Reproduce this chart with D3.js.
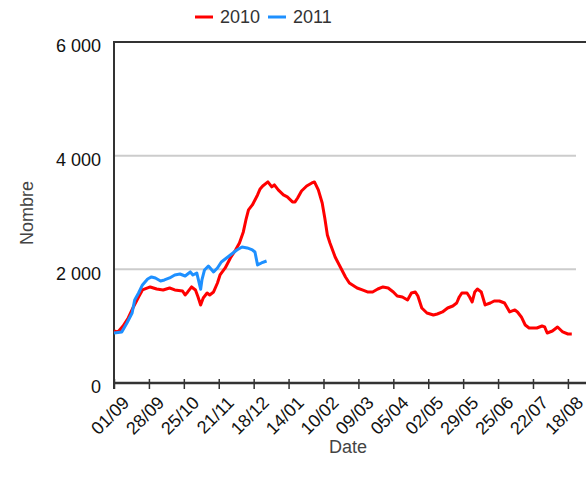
<!DOCTYPE html>
<html>
<head>
<meta charset="utf-8">
<script src="https://cdn.jsdelivr.net/npm/d3@7"></script>
<style>
  body { margin: 0; background: #fff; }
  text { font-family: "Liberation Sans", Arial, sans-serif; }
</style>
</head>
<body>
<div id="chart"></div>
<script>
// days since 01/09/2010 and counts
var days2010 = [0, 3, 7, 11, 15, 19, 22, 28, 33, 38, 43, 47, 53, 55, 57, 60, 63, 65, 67, 69, 72, 74, 77, 80, 82, 86, 90, 94, 97, 100, 102, 104, 107, 109, 111, 113, 115, 119, 122, 124, 127, 131, 134, 138, 140, 142, 145, 149, 153, 155, 158, 161, 163, 165, 167, 171, 175, 179, 182, 188, 192, 196, 200, 204, 208, 212, 216, 219, 223, 227, 230, 233, 235, 238, 242, 247, 250, 254, 258, 262, 265, 267, 269, 273, 275, 277, 279, 281, 284, 287, 291, 294, 298, 302, 306, 310, 312, 315, 318, 321, 327, 331, 333, 335, 339, 343, 347, 351, 354];
var values2010 = [915, 898, 1003, 1144, 1338, 1514, 1637, 1690, 1654, 1637, 1672, 1637, 1619, 1549, 1602, 1690, 1637, 1514, 1373, 1496, 1584, 1549, 1602, 1760, 1901, 2024, 2200, 2341, 2464, 2658, 2869, 3045, 3133, 3221, 3309, 3414, 3467, 3538, 3450, 3485, 3397, 3309, 3274, 3186, 3186, 3256, 3379, 3467, 3520, 3538, 3397, 3168, 2904, 2605, 2464, 2218, 2042, 1866, 1760, 1672, 1637, 1602, 1602, 1654, 1690, 1672, 1602, 1531, 1514, 1461, 1584, 1602, 1531, 1320, 1232, 1197, 1214, 1250, 1320, 1355, 1408, 1514, 1584, 1584, 1514, 1426, 1602, 1654, 1602, 1373, 1408, 1443, 1443, 1408, 1250, 1285, 1250, 1162, 1021, 968, 968, 1003, 986, 880, 915, 986, 898, 862, 862];

var days2011 = [0, 6, 10, 14, 16, 19, 22, 26, 29, 32, 36, 39, 43, 47, 51, 55, 59, 61, 64, 67, 68, 70, 73, 77, 80, 83, 87, 91, 95, 99, 103, 107, 109, 111, 114, 118];
var values2011 = [880, 898, 1056, 1232, 1461, 1584, 1725, 1830, 1866, 1848, 1795, 1813, 1848, 1901, 1918, 1883, 1954, 1901, 1936, 1650, 1813, 1989, 2059, 1954, 2024, 2130, 2200, 2270, 2341, 2394, 2376, 2341, 2306, 2077, 2112, 2147];

var seriesNames = ["2010", "2011"];
var seriesColors = ["#ff0000", "#1e90ff"];
var yTicks = [0, 2000, 4000, 6000];

var width = 587, height = 486;
var margin = {top: 42, right: 1, bottom: 103, left: 114};
var start = new Date(2010, 8, 1);
var end = d3.timeDay.offset(start, 365);

var x = d3.scaleTime().domain([start, end]).range([margin.left, width - margin.right]);
var y = d3.scaleLinear().domain([0, 6000]).range([height - margin.bottom, margin.top]);

var xTicks = d3.range(0, 352, 27).map(function(d) { return d3.timeDay.offset(start, d); });

var svg = d3.select("#chart").append("svg")
    .attr("width", width)
    .attr("height", height);

// grid lines
svg.selectAll(".grid")
    .data([2000, 4000])
  .enter().append("line")
    .attr("x1", margin.left)
    .attr("x2", 576)
    .attr("y1", function(d) { return y(d); })
    .attr("y2", function(d) { return y(d); })
    .attr("stroke", "#cccccc")
    .attr("stroke-width", 2);

// top frame line
svg.append("line")
    .attr("x1", margin.left).attr("x2", width - margin.right)
    .attr("y1", y(6000)).attr("y2", y(6000))
    .attr("stroke", "#333").attr("stroke-width", 2);

// y axis
var yAxis = svg.append("g")
    .attr("transform", "translate(" + margin.left + ",0)")
    .call(d3.axisLeft(y).tickValues(yTicks).tickSize(0).tickPadding(13)
      .tickFormat(function(d) { return d3.format(",")(d).replace(",", " "); }));
yAxis.select(".domain").remove();
yAxis.selectAll("text")
    .attr("font-size", 18)
    .attr("fill", "#111")
    .attr("dy", "0.55em");
svg.append("line")
    .attr("x1", margin.left).attr("x2", margin.left)
    .attr("y1", y(6000) - 1).attr("y2", y(0) + 6)
    .attr("stroke", "#333").attr("stroke-width", 2);

// x axis
var xAxis = svg.append("g")
    .attr("transform", "translate(0," + y(0) + ")")
    .call(d3.axisBottom(x).tickValues(xTicks).tickSize(6).tickPadding(6)
      .tickFormat(d3.timeFormat("%d/%m")));
xAxis.select(".domain")
    .attr("d", "M" + margin.left + ",0H" + (width - margin.right))
    .attr("stroke", "#333").attr("stroke-width", 2.5);
xAxis.selectAll(".tick line")
    .attr("y1", -4)
    .attr("stroke", "#333").attr("stroke-width", 1.5);
xAxis.selectAll(".tick text")
    .attr("font-size", 18)
    .attr("fill", "#111")
    .attr("text-anchor", "end")
    .attr("dy", "0.35em")
    .attr("transform", "translate(3,8) rotate(-45)");

// axis titles
svg.append("text")
    .attr("x", 348).attr("y", 453)
    .attr("text-anchor", "middle")
    .attr("font-size", 18)
    .attr("fill", "#444")
    .text("Date");
svg.append("text")
    .attr("transform", "translate(33,213) rotate(-90)")
    .attr("text-anchor", "middle")
    .attr("font-size", 18)
    .attr("fill", "#444")
    .text("Nombre");

// lines
var line = d3.line()
    .x(function(d) { return x(d3.timeDay.offset(start, d[0])); })
    .y(function(d) { return y(d[1]); });

var series = [d3.zip(days2010, values2010), d3.zip(days2011, values2011)];

svg.selectAll(".series")
    .data(series)
  .enter().append("path")
    .attr("class", "series")
    .attr("fill", "none")
    .attr("stroke", function(d, i) { return seriesColors[i]; })
    .attr("stroke-width", 3)
    .attr("stroke-linejoin", "round")
    .attr("d", line);

// legend
var legend = svg.selectAll(".legend")
    .data(seriesNames)
  .enter().append("g")
    .attr("class", "legend")
    .attr("transform", function(d, i) { return "translate(" + (195 + i * 73) + ",17)"; });
legend.append("line")
    .attr("x1", 0).attr("x2", 18)
    .attr("stroke", function(d, i) { return seriesColors[i]; })
    .attr("stroke-width", 3);
legend.append("text")
    .attr("x", 25)
    .attr("dy", "0.36em")
    .attr("font-size", 18)
    .attr("fill", "#333")
    .text(function(d) { return d; });
</script>
</body>
</html>
